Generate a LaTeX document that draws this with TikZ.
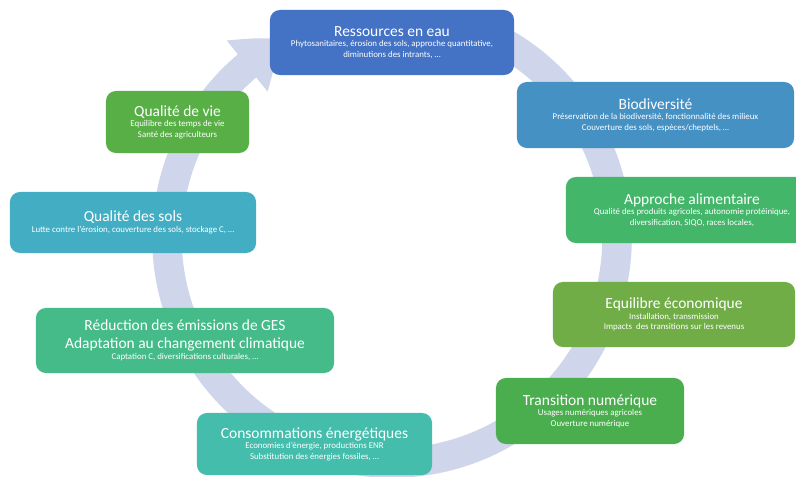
\documentclass[tikz,border=0pt]{standalone}
\usepackage{fontspec}
\setmainfont{Carlito}
\usetikzlibrary{arrows.meta,bending}
\definecolor{fleche}{HTML}{CFD5EA}
\definecolor{bleu}{HTML}{4472C4}
\definecolor{bleuclair}{HTML}{4591C4}
\definecolor{vertmoyen}{HTML}{43B66A}
\definecolor{vertolive}{HTML}{70AD47}
\definecolor{vert}{HTML}{4BAE4E}
\definecolor{turquoise}{HTML}{44BDAC}
\definecolor{vertmenthe}{HTML}{44BB89}
\definecolor{cyan}{HTML}{43AEC3}
\definecolor{vertprairie}{HTML}{57AF46}
\tikzset{
  etape/.style={fill=#1, text=white, rounded corners=7pt, inner sep=0pt,
    align=center, font=\fontsize{6.3}{7.5}\selectfont},
}
\newcommand{\titre}[1]{{\fontsize{11}{13}\selectfont #1}}
\begin{document}
\begin{tikzpicture}[x=0.025cm, y=0.025cm]
\useasboundingbox (0,0) rectangle (796,476);
\clip (0,0) rectangle (796,476);
% fleche circulaire en fond
\coordinate (centre) at (392,238);
\draw[fleche, line width=21pt, -{Triangle[width=44pt, length=34pt, bend]}]
  (centre) ++(70:225) arc[start angle=70, end angle=-242, radius=225];
% les etapes
\node[etape=bleu, minimum width=6.1cm, minimum height=1.625cm] (eau) at (392,433.5)
  {\titre{Ressources en eau}\\ Phytosanitaires, érosion des sols, approche quantitative,\\ diminutions des intrants, …};
\node[etape=bleuclair, minimum width=6.925cm, minimum height=1.65cm] (bio) at (655.5,361)
  {\titre{Biodiversité}\\ Préservation de la biodiversité, fonctionnalité des milieux\\ Couverture des sols, espèces/cheptels, …};
\node[etape=vertmoyen, minimum width=6.3cm, minimum height=1.65cm] (alim) at (692,266)
  {\titre{Approche alimentaire}\\ Qualité des produits agricoles, autonomie protéinique,\\ diversification, SIQO, races locales,};
\node[etape=vertolive, minimum width=6.05cm, minimum height=1.625cm] (eco) at (674,161.5)
  {\titre{Equilibre économique}\\ Installation, transmission\\ Impacts~ des transitions sur les revenus};
\node[etape=vert, minimum width=4.7cm, minimum height=1.65cm] (num) at (590,65)
  {\titre{Transition numérique}\\ Usages numériques agricoles\\ Ouverture numérique};
\node[etape=turquoise, minimum width=5.875cm, minimum height=1.55cm] (ener) at (314.5,32)
  {\titre{Consommations énergétiques}\\ Economies d’énergie, productions ENR\\ Substitution des énergies fossiles, …};
\node[etape=vertmenthe, minimum width=7.45cm, minimum height=1.625cm] (ges) at (185,135.5)
  {\titre{Réduction des émissions de GES}\\[4pt] \titre{Adaptation au changement climatique}\\ Captation C, diversifications culturales, …};
\node[etape=cyan, minimum width=6.15cm, minimum height=1.525cm] (sols) at (133,253.5)
  {\titre{Qualité des sols}\\ Lutte contre l’érosion, couverture des sols, stockage C, …};
\node[etape=vertprairie, minimum width=3.575cm, minimum height=1.55cm] (vie) at (177.5,354)
  {\titre{Qualité de vie}\\ Equilibre des temps de vie\\ Santé des agriculteurs};
\end{tikzpicture}
\end{document}
